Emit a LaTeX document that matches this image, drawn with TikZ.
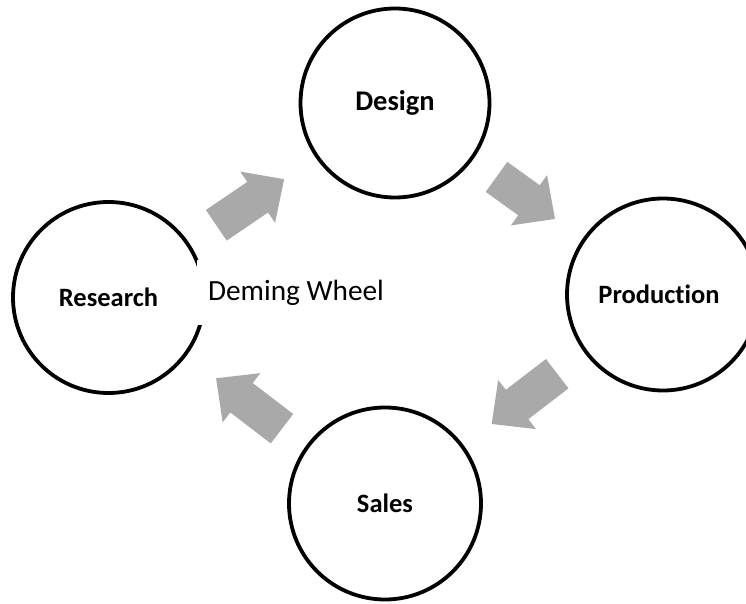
\documentclass[tikz,border=0pt]{standalone}
\usepackage{fontspec}
\setmainfont{Carlito}[Ligatures=NoCommon]
\definecolor{arrowgray}{HTML}{A9A9A9}
\tikzset{
  stage/.style={circle, draw=black, line width=3.8pt, minimum size=#1, inner sep=0pt,
    font=\fontsize{26.5}{31}\selectfont\bfseries},
  barrow/.pic={\fill[arrowgray] (0,-18.5) -- ({#1-32},-18.5) -- ({#1-32},-31) -- (#1,0)
      -- ({#1-32},31) -- ({#1-32},18.5) -- (0,18.5) -- cycle;},
  centerlabel/.style={fill=white, minimum width=198pt, minimum height=65pt, inner sep=0pt,
    font=\fontsize{29.3}{34}\selectfont}
}
\begin{document}
\begin{tikzpicture}[x=1pt,y=1pt]
\useasboundingbox (0,0) rectangle (746,603);
\fill[white] (0,0) rectangle (746,603);
\node[stage=189pt, font=\fontsize{28.5}{33}\selectfont\bfseries] (design) at (395,500) {Design};
\node[stage=191pt] (research) at (108.5,305.5) {Research};
\node[stage=192pt] (production) at (663,308.5) {\hspace*{-8pt}Production};
\node[stage=192pt] (sales) at (385,99.5) {\raisebox{-3pt}{Sales}};
\node[centerlabel] (wheel) at (296,310.5) {Deming Wheel};
\coordinate (t1) at (216.3,377.7);
\coordinate (t2) at (496.5,426.1);
\coordinate (t3) at (557.2,229.3);
\coordinate (t4) at (282,174.3);
\pic[rotate=34.2] at (t1) {barrow=82};
\pic[rotate=-35.7] at (t2) {barrow=72};
\pic[rotate=217.5] at (t3) {barrow=82.6};
\pic[rotate=142.6] at (t4) {barrow=83};
\end{tikzpicture}
\end{document}
